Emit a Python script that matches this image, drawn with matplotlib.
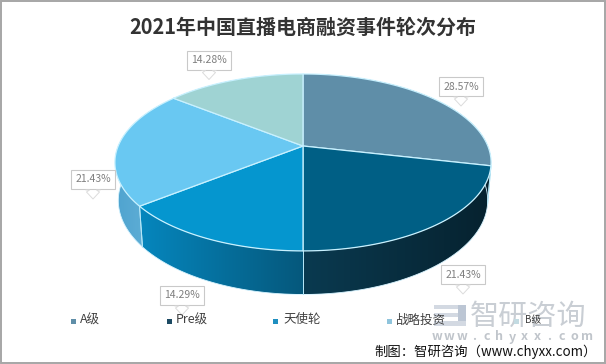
import numpy as np
import matplotlib
matplotlib.use("Agg")
import matplotlib.pyplot as plt
from matplotlib.patches import Polygon, Rectangle
from matplotlib.colors import LinearSegmentedColormap

plt.rcParams["font.family"] = ["Noto Sans CJK SC", "DejaVu Sans"]

categories = ["A级", "Pre级", "天使轮", "战略投资", "B级"]
values = [28.57, 21.43, 14.29, 21.43, 14.28]
labels = ["28.57%", "21.43%", "14.29%", "21.43%", "14.28%"]

top_colors = ["#5f8ea8", "#005f85", "#0596cf", "#69c8f2", "#9fd3d3"]
side_left = ["#3d5f70", "#0a3a50", "#0686bd", "#4fa3cf", "#6a9c9c"]
side_right = ["#0d2c3d", "#06222f", "#05587c", "#6db8dc", "#6a9c9c"]
legend_colors = ["#5f8ea8", "#1c4a63", "#1f8fc0", "#8fc4dc", "#c3dbe2"]

# pie geometry in pixels
cx, cy = 303, 146
a, b, k = 184.8, 85.4, 0.186
depth, shrink = 37, 0.982

# label boxes: centre x, top y
box_pos = [(461, 77), (463, 265), (182, 286), (93, 170), (209, 50.5)]
marker_x = [71, 167, 273, 387, 514]
text_x = [80, 176, 283, 396, 525]


def top_edge(t):
    w = 1 + k * np.cos(t)
    return cx + a * np.sin(t) / w, cy - b * np.cos(t) / w


def low_edge(t):
    w = 1 + k * np.cos(t)
    return (cx + shrink * a * np.sin(t) / w,
            cy - shrink * b * np.cos(t) / w + depth / w)


fig = plt.figure(figsize=(6.06, 3.64), dpi=100)
ax = fig.add_axes([0, 0, 1, 1])
ax.set_xlim(0, 606)
ax.set_ylim(364, 0)
ax.axis("off")

ax.add_patch(Rectangle((0.5, 0.5), 604, 362.5, fc="white", ec="#a6a6a6", lw=1.4))

edges = np.cumsum([0] + values) / sum(values) * 2 * np.pi

# sides first, then the top faces
for i in range(len(values)):
    t = np.linspace(edges[i], edges[i + 1], 100)
    xt, yt = top_edge(t)
    xl, yl = low_edge(t)
    pts = np.r_[np.c_[xt, yt], np.c_[xl, yl][::-1]]
    poly = Polygon(pts, fc="none", ec="none", transform=ax.transData)
    ax.add_patch(poly)
    cmap = LinearSegmentedColormap.from_list("s", [side_left[i], side_right[i]])
    im = ax.imshow(np.linspace(0, 1, 64)[None, :], cmap=cmap, aspect="auto", zorder=1,
                   extent=(pts[:, 0].min(), pts[:, 0].max(), pts[:, 1].max(), pts[:, 1].min()))
    im.set_clip_path(poly)
    ax.plot(xl, yl, color="#d5f3ff", lw=0.6, zorder=1.5)
    for e in (edges[i], edges[i + 1]):
        ax.plot([top_edge(e)[0], low_edge(e)[0]], [top_edge(e)[1], low_edge(e)[1]],
                color="#b5e6f7", lw=0.7, zorder=1.5)
ax.set_xlim(0, 606)
ax.set_ylim(364, 0)

for i in range(len(values)):
    t = np.linspace(edges[i], edges[i + 1], 100)
    xt, yt = top_edge(t)
    pts = np.r_[[[cx, cy]], np.c_[xt, yt]]
    ax.add_patch(Polygon(pts, fc=top_colors[i], ec="#c8f1ff", lw=0.9, zorder=2))

# data labels with small callout arrows
for text, (bx, by) in zip(labels, box_pos):
    ax.add_patch(Rectangle((bx - 22, by), 44, 19, fc="white", ec="#c9c9c9", lw=0.8, zorder=3))
    ax.text(bx, by + 9.5, text, ha="center", va="center", fontsize=7.5, color="#7f7f7f", zorder=4)
    ax.plot([bx - 7, bx - 3.5, bx - 6.5, bx, bx + 6.5, bx + 3.5, bx + 7],
            [by + 20, by + 20, by + 22, by + 29, by + 22, by + 20, by + 20],
            color="#dcdcdc", lw=0.7, zorder=3)

ax.text(303, 27.5, "2021年中国直播电商融资事件轮次分布", ha="center", va="center",
        fontsize=14.4, fontweight="bold", color="#333333", zorder=4)

# watermark
ax.add_patch(Rectangle((434, 305), 24, 4, fc="#d3d9e2", ec="none", zorder=3))
ax.add_patch(Rectangle((434, 313), 24, 4, fc="#d3d9e2", ec="none", zorder=3))
ax.add_patch(Rectangle((434, 321), 32, 5, fc="#d3d9e2", ec="none", zorder=3))
ax.add_patch(Rectangle((458, 305), 8, 16, fc="#bcc6d4", ec="none", zorder=3))
ax.text(528, 317, "智研咨询", ha="center", va="center", fontsize=21, color="#c9ced4", zorder=3)
for ch, x in zip("www.chyxx.com", np.linspace(437, 587, 13)):
    ax.text(x, 337, ch, ha="center", va="center", fontsize=9, fontweight="bold",
            color="#c0c5cb", zorder=3)

# legend
for name, mx, tx, col in zip(categories, marker_x, text_x, legend_colors):
    ax.add_patch(Rectangle((mx, 319), 4.5, 4.5, fc=col, ec="none", zorder=5))
    size = 7 if name == "B级" else 9
    ax.text(tx, 320, name, ha="left", va="center", fontsize=size, color="#404040", zorder=5)

ax.text(374, 352, "制图：智研咨询（www.chyxx.com）", ha="left", va="center", fontsize=9.6,
        color="#111111", zorder=5)

fig.savefig("out.png", dpi=100)
